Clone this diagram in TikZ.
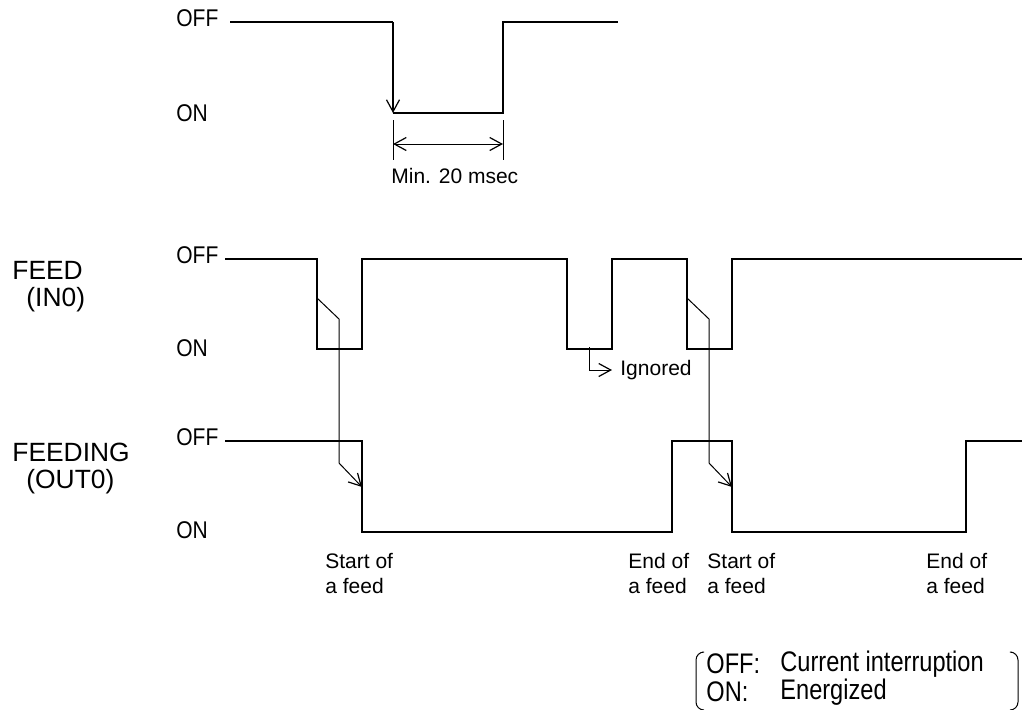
\documentclass[tikz,border=0pt]{standalone}
\usepackage{fontspec}
\setmainfont{Liberation Sans}
\usepackage{tikz}
\usetikzlibrary{arrows.meta}
\usetikzlibrary{positioning}

\newcommand{\tall}[2]{\scalebox{1}[#1]{#2}}

\tikzset{
	signal/.style={line width=1pt, line join=miter},
	thin line/.style={line width=0.5pt},
	barb/.style={-{Straight Barb[length=6pt,width=6.5pt,line width=0.6pt]}},
	lvl/.style={font=\fontsize{10.5}{12}\selectfont, anchor=west, inner sep=0pt},
	signame/.style={font=\fontsize{13.2}{14}\selectfont, anchor=west, inner sep=0pt},
	note/.style={font=\fontsize{10.5}{12.5}\selectfont, align=left, anchor=north west, inner sep=0pt},
	legend/.style={font=\fontsize{11.8}{13}\selectfont, anchor=west, inner sep=0pt},
}

\begin{document}
\begin{tikzpicture}[x=0.5pt, y=-0.5pt]
	\useasboundingbox (0,0) rectangle (1029,709);

	% minimum pulse width
	\node[lvl] (toff) at (176,18) {\tall{1.15}{OFF}};
	\node[lvl] (ton) at (176,113) {\tall{1.15}{ON}};
	\coordinate (t0) at (230,22);
	\coordinate (t1) at (393,22);
	\coordinate (t2) at (393,113);
	\coordinate (t3) at (503,113);
	\coordinate (t4) at (503,22);
	\coordinate (t5) at (618,22);
	\draw[signal] (t0) -- (t1);
	\draw[signal, barb] (t1) -- (t2);
	\draw[signal] (t2) -- (t3) -- (t4) -- (t5);
	\draw[thin line] (393,120) -- (393,160);
	\draw[thin line] (503,120) -- (503,160);
	\draw[thin line, {Straight Barb[length=6pt,width=6.5pt,line width=0.6pt]}-{Straight Barb[length=6pt,width=6.5pt,line width=0.6pt]}] (393,144) -- (503,144);
	\node[lvl] (minw) at (391,176) {Min. 20 msec};

	% FEED (IN0)
	\node[signame] (feed) at (12,270) {FEED};
	\node[signame] (feedid) at (26,300) {(IN0)};
	\node[lvl] (feedoff) at (176,255) {\tall{1.15}{OFF}};
	\node[lvl] (feedon) at (176,348) {\tall{1.15}{ON}};
	\draw[signal] (225,259) -- (317,259) -- (317,349) -- (362,349) -- (362,259)
		-- (567,259) -- (567,349) -- (612,349) -- (612,259)
		-- (687,259) -- (687,349) -- (732,349) -- (732,259) -- (1022,259);

	% FEEDING (OUT0)
	\node[signame] (feeding) at (12,452) {FEEDING};
	\node[signame] (feedingid) at (26,482) {(OUT0)};
	\node[lvl] (outoff) at (176,437) {\tall{1.15}{OFF}};
	\node[lvl] (outon) at (176,530) {\tall{1.15}{ON}};
	\draw[signal] (225,441) -- (362,441) -- (362,532) -- (672,532) -- (672,441)
		-- (732,441) -- (732,532) -- (966,532) -- (966,441) -- (1022,441);

	% cause and effect
	\coordinate (a1) at (317,298);
	\coordinate (a2) at (339,319);
	\coordinate (a3) at (339,463);
	\coordinate (a4) at (362,487);
	\draw[thin line, barb] (a1) -- (a2) -- (a3) -- (a4);
	\coordinate (b1) at (687,298);
	\coordinate (b2) at (709,319);
	\coordinate (b3) at (709,463);
	\coordinate (b4) at (732,487);
	\draw[thin line, barb] (b1) -- (b2) -- (b3) -- (b4);
	\coordinate (g1) at (589,347);
	\coordinate (g2) at (589,370);
	\coordinate (g3) at (612,370);
	\node[lvl] (ign) at (620,370) {Ignored};
	\draw[thin line, barb] (g1) -- (g2) -- (g3);

	% events
	\node[note] (start1) at (325,553) {Start of\\a feed};
	\node[note] (end1) at (628,553) {End of\\a feed};
	\node[note] (start2) at (707,553) {Start of\\a feed};
	\node[note] (end2) at (926,553) {End of\\a feed};

	% legend
	\node[legend] (lgoff) at (706,664) {\tall{1.2}{OFF:}};
	\node[legend] (lgoffx) at (780,664) {\tall{1.2}{Current interruption}};
	\node[legend] (lgon) at (706,692) {\tall{1.2}{ON:}};
	\node[legend] (lgonx) at (780,692) {\tall{1.2}{Energized}};
	\draw[thin line, rounded corners=4pt] (702,652) -- (696,652) -- (696,710) -- (702,710);
	\draw[thin line, rounded corners=4pt] (1012,652) -- (1018,652) -- (1018,710) -- (1012,710);
\end{tikzpicture}
\end{document}
